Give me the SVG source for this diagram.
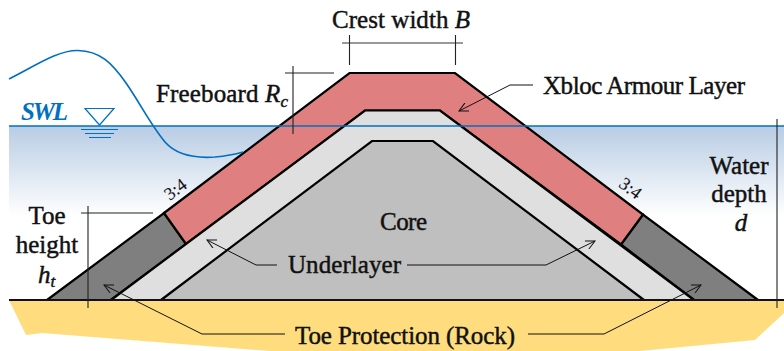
<svg xmlns="http://www.w3.org/2000/svg" width="784" height="351" viewBox="0 0 784 351">
<defs>
<linearGradient id="water" x1="0" y1="0" x2="0" y2="1"><stop offset="0" stop-color="#b8cce4"/><stop offset="1" stop-color="#ffffff"/></linearGradient>
<marker id="open" markerWidth="12" markerHeight="10" refX="10" refY="5" orient="auto" markerUnits="userSpaceOnUse"><path d="M1 0.500L10 5L1 9.500" fill="none" stroke="#111" stroke-width="1"/></marker>
</defs>
<style>
.t{font-family:"Liberation Serif","DejaVu Serif",serif;font-size:25px;fill:#111;stroke:#111;stroke-width:.45px}
.i{font-style:italic}
.s{fill:none;stroke:#000;stroke-width:2.2;stroke-linejoin:miter}
.d{fill:none;stroke:#222;stroke-width:1.1}
.b{fill:none;stroke:#0070c0;stroke-width:1.7}
.l{fill:none;stroke:#111;stroke-width:1;marker-end:url(#open)}
</style>
<g id="seabed"><path d="M9 300H784V313L755 340L640 351H270L42 333L26 335Z" fill="#ffdd7f"/></g>
<g id="water-body"><rect x="9" y="126" width="775" height="90" fill="url(#water)"/></g>
<g id="toe-protection"><path class="s" style="fill:#7f7f7f" d="M47 300L164 213L186 244L111 300Z"/><path class="s" style="fill:#7f7f7f" d="M758 300L643 214.500L621 244.500L694 300Z"/></g>
<g id="armour"><path class="s" style="fill:#df7f7f" d="M164 213L349.500 73H455L643 214.500L621 244.500L440 110.500H365L186 244Z"/></g>
<g id="underlayer"><path class="s" style="fill:#dfdfdf" d="M111 300L365 110.500H440L694 300Z"/></g>
<g id="core"><path class="s" style="fill:#bfbfbf" d="M161 300L372 141H433L644 300Z"/></g>
<g id="ground-line"><path d="M9 300H784" stroke="#111" stroke-width="2" fill="none"/></g>
<g id="connectors">
<path class="l" d="M277 265H256L207 240"/>
<path class="l" d="M407 265H546L595 241"/>
<path class="l" d="M285 334H202L104 285"/>
<path class="l" d="M528 334H604L701 285"/>
<path class="l" d="M533 85H510L459 111"/>
</g>
<g id="swl">
<path class="b" d="M9 126H784"/>
<path class="b" style="stroke-width:1.2" d="M85 108.500H114L99.500 125Z"/>
<path class="b" style="stroke-width:1.2" d="M81 129.500H118M85 133.500H114M89 137.500H111"/>
<path class="b" d="M9 79C35 66 58 50 78 50.500C100 51 112 63 126 83C140 103 150 124 165 142C178 157 200 158 215 157C226 156 236 154 243 152"/>
<text x="21" y="120" textLength="47" style="font-family:'Liberation Serif',serif;font-size:25px;font-style:italic;font-weight:bold;fill:#0070c0">SWL</text>
</g>
<g id="dimensions">
<path class="d" style="stroke:#777;stroke-width:1.500" d="M342 43H463"/>
<path class="d" d="M349.500 35V65M455.500 35V65"/>
<path class="d" d="M285 73H334M293 66V134"/>
<path class="d" d="M81 213H153M88 206V308"/>
<path class="d" d="M777 119V308"/>
</g>
<g id="labels">
<text class="t" x="332" y="28" textLength="138">Crest width <tspan class="i">B</tspan></text>
<text class="t" x="156" y="102" textLength="132">Freeboard <tspan class="i">R</tspan><tspan class="i" font-size="17" dy="5">c</tspan></text>
<text class="t" x="543" y="94" textLength="202">Xbloc Armour Layer</text>
<text class="t" x="380" y="230" textLength="47">Core</text>
<text class="t" x="288" y="273" textLength="113">Underlayer</text>
<text class="t" x="295" y="344" textLength="220">Toe Protection (Rock)</text>
<text class="t" text-anchor="middle" x="47" y="224">Toe</text>
<text class="t" text-anchor="middle" x="47" y="253">height</text>
<text class="t i" x="38" y="283">h<tspan font-size="17" dy="4">t</tspan></text>
<text class="t" text-anchor="middle" x="739" y="174">Water</text>
<text class="t" text-anchor="middle" x="739" y="202">depth</text>
<text class="t i" text-anchor="middle" x="741" y="231">d</text>
<text class="t" style="font-size:18px;stroke-width:.1" text-anchor="middle" transform="translate(179 194) rotate(-37)">3:4</text>
<text class="t" style="font-size:18px;stroke-width:.1" text-anchor="middle" transform="translate(627 193) rotate(37)">3:4</text>
</g>
</svg>
